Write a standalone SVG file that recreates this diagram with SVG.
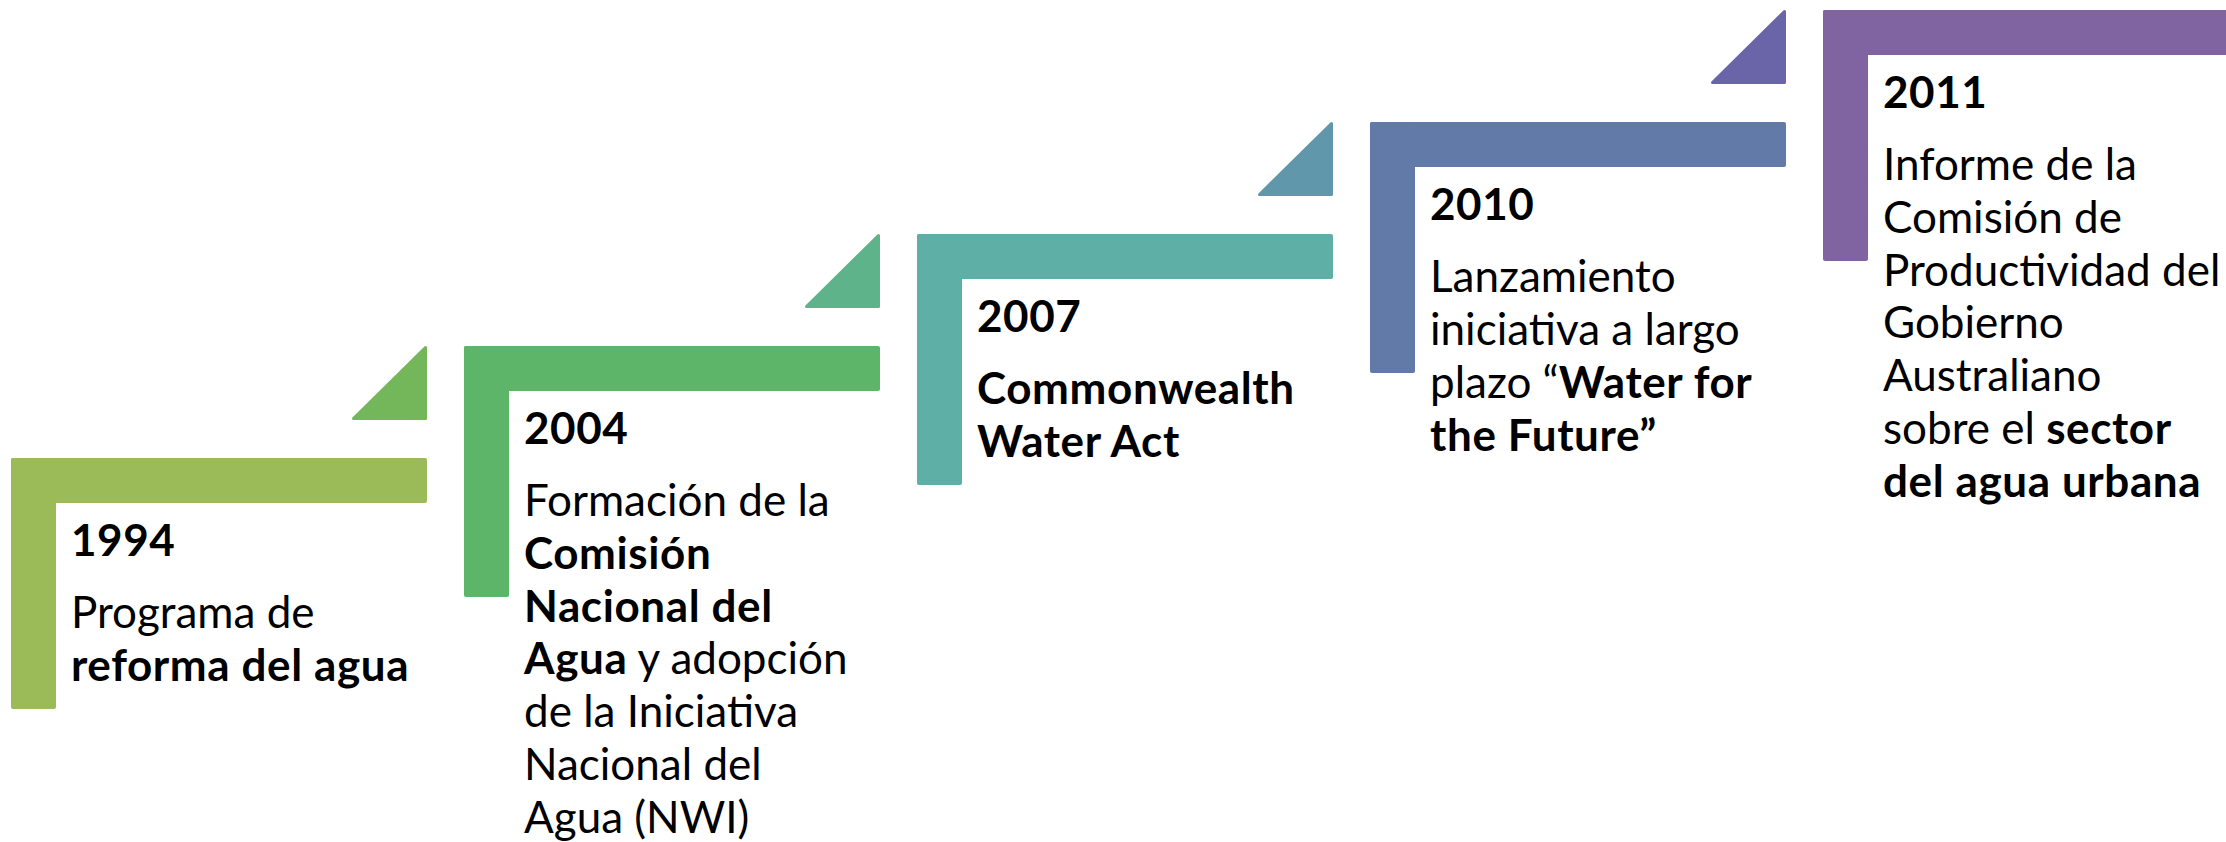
<svg xmlns="http://www.w3.org/2000/svg" width="2226" height="842" viewBox="0 0 2226 842">
<style>
.t{font-family:Lato,"Open Sans",sans-serif;font-size:44px;fill:#000}
.b{font-weight:bold;letter-spacing:0.6px}
.tri{stroke-width:3;stroke-linejoin:round}
</style>
<rect width="2226" height="842" fill="#fff"/>
<g id="connectors">
<polygon class="tri" points="353.5,418.5 425.5,347.5 425.5,418.5" fill="#74B65A" stroke="#74B65A"/>
<polygon class="tri" points="806.5,306.5 878.5,235.5 878.5,306.5" fill="#5FB38A" stroke="#5FB38A"/>
<polygon class="tri" points="1259.5,194.5 1331.5,123.5 1331.5,194.5" fill="#6097AB" stroke="#6097AB"/>
<polygon class="tri" points="1712.5,82.5 1784.5,11.5 1784.5,82.5" fill="#6A64A8" stroke="#6A64A8"/>
</g>
<g id="n1994">
<rect x="11" y="458" width="416" height="45" rx="2" fill="#9BBB59"/>
<rect x="11" y="458" width="45" height="251" rx="2" fill="#9BBB59"/>
<text class="t b" x="71" y="556">1994</text>
<text class="t" x="71" y="628">Programa de</text>
<text class="t b" x="71" y="681">reforma del agua</text>
</g>
<g id="n2004">
<rect x="464" y="346" width="416" height="45" rx="2" fill="#5CB568"/>
<rect x="464" y="346" width="45" height="251" rx="2" fill="#5CB568"/>
<text class="t b" x="524" y="444">2004</text>
<text class="t" x="524" y="516">Formación de la</text>
<text class="t b" x="524" y="569">Comisión</text>
<text class="t b" x="524" y="622">Nacional del</text>
<text class="t" x="524" y="674"><tspan class="b">Agua</tspan> y adopción</text>
<text class="t" x="524" y="727">de la Iniciativa</text>
<text class="t" x="524" y="780">Nacional del</text>
<text class="t" x="524" y="833">Agua (NWI)</text>
</g>
<g id="n2007">
<rect x="917" y="234" width="416" height="45" rx="2" fill="#5EAFA6"/>
<rect x="917" y="234" width="45" height="251" rx="2" fill="#5EAFA6"/>
<text class="t b" x="977" y="332">2007</text>
<text class="t b" x="977" y="404">Commonwealth</text>
<text class="t b" x="977" y="457">Water Act</text>
</g>
<g id="n2010">
<rect x="1370" y="122" width="416" height="45" rx="2" fill="#617AA8"/>
<rect x="1370" y="122" width="45" height="251" rx="2" fill="#617AA8"/>
<text class="t b" x="1430" y="220">2010</text>
<text class="t" x="1430" y="292">Lanzamiento</text>
<text class="t" x="1430" y="345">iniciativa a largo</text>
<text class="t" x="1430" y="398">plazo “<tspan class="b">Water for</tspan></text>
<text class="t b" x="1430" y="451">the Future”</text>
</g>
<g id="n2011">
<rect x="1823" y="10" width="420" height="45" rx="2" fill="#8064A2"/>
<rect x="1823" y="10" width="45" height="251" rx="2" fill="#8064A2"/>
<text class="t b" x="1883" y="108">2011</text>
<text class="t" x="1883" y="180">Informe de la</text>
<text class="t" x="1883" y="233">Comisión de</text>
<text class="t" x="1883" y="286">Productividad del</text>
<text class="t" x="1883" y="338">Gobierno</text>
<text class="t" x="1883" y="391">Australiano</text>
<text class="t" x="1883" y="444">sobre el <tspan class="b">sector</tspan></text>
<text class="t b" x="1883" y="497">del agua urbana</text>
</g>
</svg>
